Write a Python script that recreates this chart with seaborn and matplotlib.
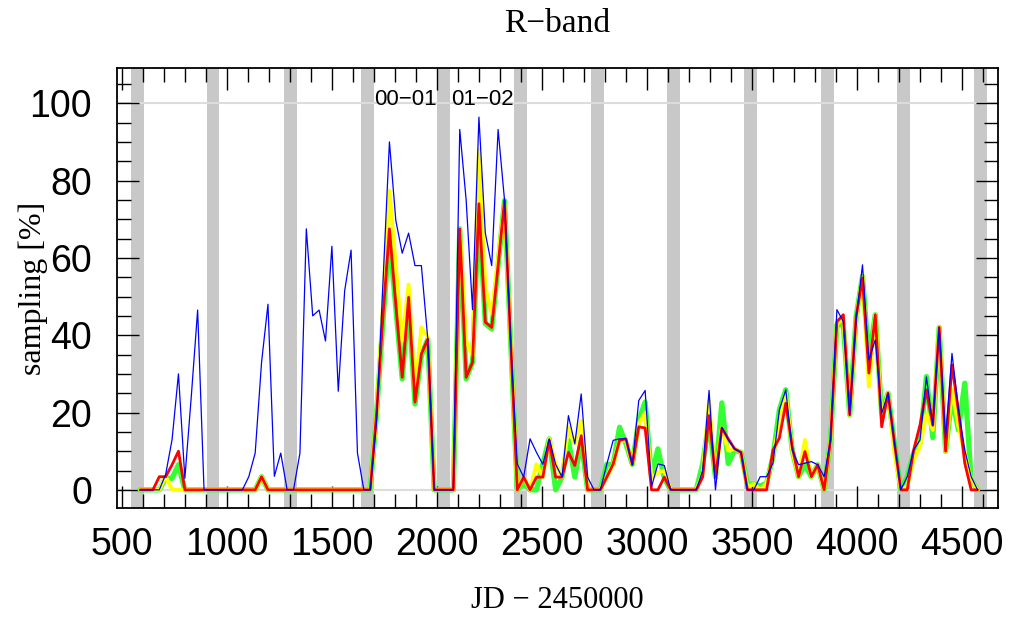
import numpy as np
import pandas as pd
import matplotlib
matplotlib.use("Agg")
import matplotlib.pyplot as plt
import seaborn as sns
from matplotlib.ticker import MultipleLocator

# Monthly sampling bins, JD - 2450000
JD_START = 586
BIN_DAYS = 30.44

# sampling [%] per bin
blue = [
    0, 0, 0, 0, 4, 13, 30, 3, 24, 46.5,
    0, 0, 0, 0, 0, 0, 0, 3.4, 9.5, 33,
    48, 3.5, 9.5, 0, 0, 9.5, 67.5, 45, 46.5, 38.5,
    63, 25.5, 51.5, 62, 9.5, 0, 0, 18, 54, 90,
    69.7, 61.2, 66.4, 58, 58, 39, 0, 0, 0, 0,
    93.2, 75, 46.6, 96.4, 66.4, 58, 93.2, 75, 37, 6.7,
    3.3, 13.2, 9.7, 6.6, 13.2, 6.6, 3.3, 19.2, 11.9, 24.8,
    3.3, 0, 0, 6.6, 12.8, 13.2, 13.2, 6.5, 23.1, 25.7,
    0.8, 6.7, 6.3, 0, 0, 0, 0, 0, 5, 25.7,
    0, 16.2, 13, 10.6, 9.7, 0, 0, 3.4, 3.4, 6.9,
    20.7, 25.9, 10.3, 6.5, 6.9, 7.3, 6.5, 3.4, 12.9, 46.6,
    43.5, 19.4, 44, 58.2, 33.6, 38.8, 19.8, 25, 12.1, 0,
    3.4, 10.3, 12.9, 29.2, 16.7, 42, 13.5, 35.3, 21, 10.3,
    3.4, 0]

red = [
    0, 0, 0, 3.4, 3.4, 6.5, 10, 0, 0, 0,
    0, 0, 0, 0, 0, 0, 0, 0, 0, 3.4,
    0, 0, 0, 0, 0, 0, 0, 0, 0, 0,
    0, 0, 0, 0, 0, 0, 0, 20, 45, 67.5,
    48, 29.1, 49.8, 22.7, 35.2, 39, 0, 0, 0, 0,
    67.5, 29.1, 33, 74, 43.4, 42, 58, 74.8, 37, 0,
    3.3, 0, 3.3, 3.3, 12.8, 3.3, 3.3, 9.7, 6.3, 14,
    0, 0, 0, 3.3, 6.7, 12.8, 13.2, 6.5, 16.3, 16,
    0, 0, 3.3, 0, 0, 0, 0, 0, 3.3, 19.2,
    3.3, 16, 13.2, 10.6, 9.7, 0, 0, 0, 0, 10.3,
    13.4, 22.4, 11.2, 3.4, 9.9, 3.4, 6.5, 0, 12.9, 43.5,
    45.3, 19.4, 44.8, 54.7, 30.2, 45.3, 16.3, 25, 12.1, 0,
    0, 10.3, 16.8, 25.8, 16.7, 42, 10, 32.3, 20.5, 6.9,
    0, 0]

green = [
    0, 0, 0, 0, 3, 3, 6.5, 0, 0, 0,
    0, 0, 0, 0, 0, 0, 0, 0, 0, 3.4,
    0, 0, 0, 0, 0, 0, 0, 0, 0, 0,
    0, 0, 0, 0, 0, 0, 0, 20, 44, 66,
    47, 28.7, 49, 22.2, 34.7, 39, 0, 0, 0, 0,
    67.5, 28.7, 33, 73.5, 43, 41.6, 58, 74.8, 37, 0,
    1.6, 0, 0, 6.7, 13.2, 0, 3.3, 12.8, 3.3, 12.8,
    0, 0, 0, 6.6, 6.6, 16.2, 11.9, 6.6, 18, 22.7,
    3.5, 10.6, 3, 0, 0, 0, 0, 0, 6.7, 17.9,
    3.3, 22.5, 6.8, 10.3, 9.7, 1.5, 1.5, 1, 1.7, 8.6,
    20.7, 25.9, 10.3, 3.4, 6.5, 3.4, 6.5, 0, 12.9, 42.7,
    42.7, 19.4, 44.8, 55.2, 33.6, 45.3, 19.8, 25, 12.1, 0,
    3.4, 9.5, 12.1, 29.3, 13.5, 42, 10, 24, 15.5, 27.6,
    2.6, 0]

yellow = [
    0, 0, 0, 0, 3.5, 0, 0, 0, 0, 0,
    0, 0, 0, 0, 0, 0, 0, 0, 0, 3.4,
    0, 0, 0, 0, 0, 0, 0, 0, 0, 0,
    0, 0, 0, 0, 0, 0, 0, 20, 48, 77.4,
    58, 38.6, 53.1, 25, 42, 39.5, 0, 0, 0, 0,
    67.5, 38.6, 34.7, 88, 52.4, 45.5, 60, 74, 37, 0,
    3.3, 0, 6.6, 3.3, 13.2, 6.7, 3.3, 16.2, 11.9, 17.9,
    0, 0, 0, 3.3, 6.6, 12.8, 12.8, 6.6, 17, 20,
    3, 4.5, 5, 0, 0, 0, 0, 0, 4.1, 23,
    3.3, 16, 10.2, 10.6, 9.7, 0.7, 1.5, 0, 1.7, 8.6,
    17.2, 25, 10.3, 3.4, 12.9, 3.4, 6.5, 0, 12.9, 42.7,
    44.8, 19.4, 44, 55.2, 26.7, 45.3, 18.1, 25, 9.5, 0,
    0.9, 7.8, 11.2, 19.8, 15.5, 42, 10, 26, 16.5, 9.5,
    2.6, 0]

# seasonal gaps (shaded) and season labels
gap_start = [543, 903, 1271, 1638, 2002, 2368, 2733, 3095, 3462, 3829, 4190, 4557]
GAP_DAYS = 60
season_names = ["00\u221201", "01\u221202"]
season_mid = [1849, 2215]

sns.set_style("ticks")
plt.rcParams["font.family"] = ["Liberation Sans", "DejaVu Sans"]
plt.rcParams.update({"text.color": "black", "axes.labelcolor": "black",
                     "xtick.color": "black", "ytick.color": "black"})

jd = JD_START + BIN_DAYS * np.arange(len(blue))
df = pd.DataFrame({"jd": jd, "green": green, "yellow": yellow, "red": red, "blue": blue})

fig = plt.figure(figsize=(10.13, 6.2), dpi=100)
ax = fig.add_axes([0.1155, 0.1806, 0.8697, 0.7097])

for start in gap_start:
    ax.axvspan(start, start + GAP_DAYS, color="#c8c8c8", lw=0, zorder=0)
for level in (0, 100):
    ax.axhline(level, color="#dcdcdc", lw=1.5, zorder=0.5)

# drawn thick-to-thin so every series stays visible
series_style = [("green", "#33ff33", 3.8), ("yellow", "#ffff00", 2.8),
                ("red", "#ff0000", 2.0), ("blue", "#0000ff", 0.9)]
for name, col, lw in series_style:
    sns.lineplot(data=df, x="jd", y=name, color=col, linewidth=lw,
                 errorbar=None, ax=ax, zorder=2)

for name, mid in zip(season_names, season_mid):
    ax.text(mid, 101, name, ha="center", va="center", fontsize=16)

ax.set_xlim(476, 4671)
ax.set_ylim(-4.7, 109.1)
ax.xaxis.set_major_locator(MultipleLocator(500))
ax.xaxis.set_minor_locator(MultipleLocator(100))
ax.yaxis.set_major_locator(MultipleLocator(20))
ax.yaxis.set_minor_locator(MultipleLocator(5))
ax.tick_params(which="both", direction="in", top=True, right=True, color="black", width=1)
ax.tick_params(which="major", length=16, labelsize=27)
ax.tick_params(axis="x", which="major", pad=14)
ax.tick_params(axis="y", which="major", pad=18)
ax.tick_params(which="minor", length=10)
for sp in ax.spines.values():
    sp.set_linewidth(1.3)
    sp.set_color("black")

serif = ["Liberation Serif", "DejaVu Serif"]
ax.set_title("R\u2212band", fontsize=24, family=serif, pad=26)
ax.set_xlabel("JD \u2212 2450000", fontsize=22, family=serif, va="center")
ax.set_ylabel("sampling [%]", fontsize=23, family=serif)
ax.xaxis.set_label_coords(0.5, -0.211)
ax.yaxis.set_label_coords(-0.078, 0.5)

fig.savefig("out.png", dpi=100)
